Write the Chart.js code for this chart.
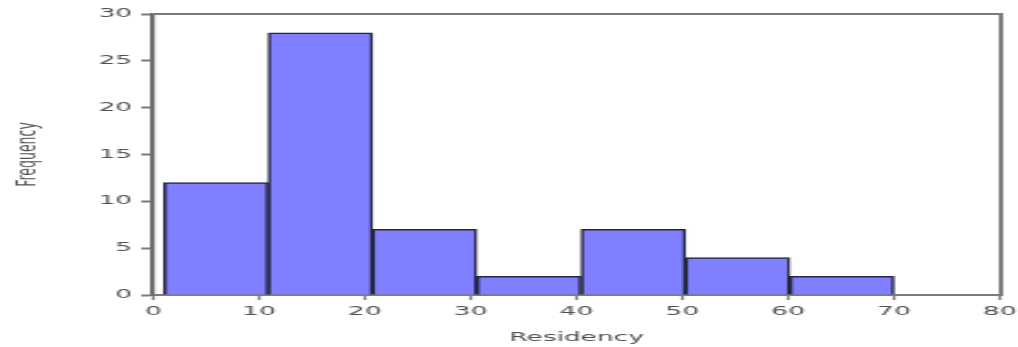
<!DOCTYPE html>
<html>
<head>
<meta charset="utf-8">
<script src="https://cdn.jsdelivr.net/npm/chart.js@4.4.1/dist/chart.umd.min.js"></script>
<style>
  html, body { margin: 0; padding: 0; background: #ffffff; overflow: hidden; }
  /* the chart is laid out narrow and widened horizontally */
  #frame {
    position: absolute; left: 0; top: 0;
    width: 462.7px; height: 347px;
    transform: scaleX(2.2); transform-origin: 0 0;
  }
</style>
</head>
<body>
<div id="frame"><canvas id="hist"></canvas></div>
<script>
// Histogram of residency: bin edges and counts per bin
const binEdges = [1, 10.86, 20.71, 30.57, 40.43, 50.29, 60.14, 70];
const frequencies = [12, 28, 7, 2, 7, 4, 2];
const xTickValues = [0, 10, 20, 30, 40, 50, 60, 70, 80];
const yTickValues = [0, 5, 10, 15, 20, 25, 30];
const xTitle = 'Residency';
const yTitle = 'Frequency';

const binPoints = frequencies.map((f, i) => ({ x: (binEdges[i] + binEdges[i + 1]) / 2, y: f }));

const axisGray = '#7b7b7b';
const labelGray = '#505050';
const labelFont = { family: 'DejaVu Sans', size: 12 };

// fixed axis sizes, without the automatic room for edge labels
const fixX = h => s => { s.height = h; s.paddingLeft = 0; s.paddingRight = 0; };
const fixY = w => s => { s.width = w; s.paddingTop = 0; s.paddingBottom = 0; };

new Chart(document.getElementById('hist'), {
  type: 'bar',
  data: {
    datasets: [{
      data: binPoints,
      backgroundColor: '#7f7fff',
      borderColor: '#262642',
      borderWidth: 1.5,
      barPercentage: 1,
      categoryPercentage: 1,
      borderSkipped: 'bottom'
    }]
  },
  options: {
    responsive: true,
    maintainAspectRatio: false,
    animation: false,
    layout: { padding: { left: 0, right: 9.2, top: 14, bottom: 0 } },
    plugins: { legend: { display: false }, tooltip: { enabled: false } },
    scales: {
      x: {
        type: 'linear', position: 'bottom', offset: false,
        min: 0, max: 80,
        afterBuildTicks: s => { s.ticks = xTickValues.map(v => ({ value: v })); },
        afterFit: fixX(52),
        grid: { display: true, drawOnChartArea: false, offset: false, tickLength: 5, tickWidth: 1.3, tickColor: axisGray },
        border: { display: true, color: axisGray, width: 2 },
        ticks: { color: labelGray, font: labelFont, padding: 5, maxRotation: 0, autoSkip: false },
        title: { display: true, text: xTitle, color: labelGray, font: labelFont, padding: { top: 0, bottom: 2 } }
      },
      y: {
        type: 'linear', position: 'left',
        min: 0, max: 30,
        afterBuildTicks: s => { s.ticks = yTickValues.map(v => ({ value: v })); },
        afterFit: fixY(69.5),
        grid: { display: true, drawOnChartArea: false, tickLength: 5.5, tickWidth: 2, tickColor: axisGray },
        border: { display: true, color: '#6e6e6e', width: 2.2 },
        ticks: { color: labelGray, font: labelFont, padding: 4 },
        title: { display: true, text: yTitle, color: labelGray, font: { family: 'DejaVu Sans', size: 12.5 }, padding: { top: 5, bottom: 0 } }
      },
      xTop: {
        type: 'linear', position: 'top', min: 0, max: 80,
        afterFit: fixX(0),
        grid: { display: false },
        ticks: { display: false },
        border: { display: true, color: axisGray, width: 2 }
      },
      yRight: {
        type: 'linear', position: 'right', min: 0, max: 30,
        afterFit: fixY(0),
        grid: { display: false },
        ticks: { display: false },
        border: { display: true, color: axisGray, width: 2 }
      }
    }
  }
});
</script>
</body>
</html>
